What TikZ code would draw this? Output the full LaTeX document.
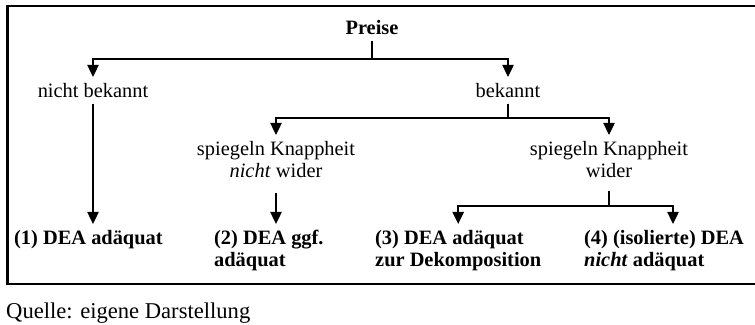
\documentclass[tikz,border=0pt]{standalone}
\usepackage{fontspec}
\setmainfont{Liberation Serif}
\usetikzlibrary{arrows.meta}
\begin{document}
\begin{tikzpicture}[x=0.5pt,y=-0.5pt,line width=1.2pt,>={Triangle[length=6pt,width=5.5pt]},
	txt/.style={inner sep=2.5pt,align=center,font=\fontsize{10.2}{11}\selectfont},
	res/.style={txt,align=left,anchor=north west,font=\fontsize{10.2}{11}\selectfont\bfseries}]
		\useasboundingbox (0,0) rectangle (755,325);
		\draw (758,6)--(7.5,6)--(7.5,284)--(758,284);
		% levels
		\node[txt,anchor=north,font=\fontsize{10.2}{11}\selectfont\bfseries] (preise) at (372,14) {Preise};
		\node[txt,anchor=north] (nb) at (93,77) {nicht bekannt};
		\node[txt,anchor=north] (bk) at (508,77) {bekannt};
		\node[txt,anchor=north] (sk1) at (276,135) {spiegeln Knappheit\\\textit{nicht} wider};
		\node[txt,anchor=north] (sk2) at (609,135) {spiegeln Knappheit\\wider};
		\node[res] (r1) at (8,224) {(1) DEA adäquat};
		\node[res] (r2) at (208,224) {(2) DEA ggf.\\adäquat};
		\node[res] (r3) at (369,224) {(3) DEA adäquat\\zur Dekomposition};
		\node[res] (r4) at (578,224) {(4) (isolierte) DEA\\\textit{nicht} adäquat};
		\node[anchor=base west,inner sep=0,font=\fontsize{11.3}{13}\selectfont] (quelle) at (5,319) {Quelle: eigene Darstellung};
		% arrows
		\coordinate (j1) at (372,59);
		\draw (preise)--(j1);
		\draw[->] (j1)-|(nb);
		\draw[->] (j1)-|(bk);
		\coordinate (j2) at (508,118);
		\draw (bk)--(j2);
		\draw[->] (j2)-|(sk1);
		\draw[->] (j2)-|(sk2);
		\draw[->] (nb)--(nb|-r1.north);
		\draw[->,shorten <=4.5pt] (sk1)--(sk1|-r2.north);
		\coordinate (j3) at (sk2|-0,206);
		\draw[shorten <=3.5pt] (sk2)--(j3);
		\draw[->] (j3)-|(r3);
		\draw[->] (j3)-|(673,0|-r4.north);
	\end{tikzpicture}
\end{document}
